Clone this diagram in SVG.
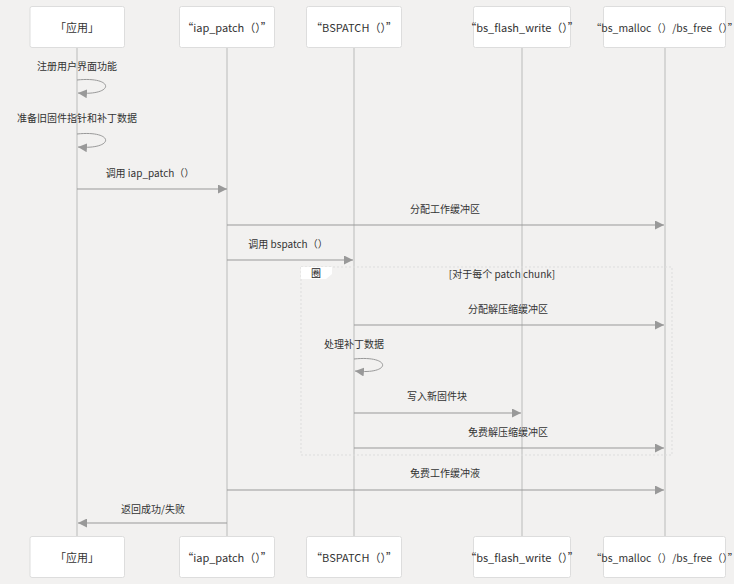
<svg xmlns="http://www.w3.org/2000/svg" width="734" height="584" viewBox="0 0 734 584">
<defs>
<style>
.actor rect{fill:#ffffff;stroke:#dddddd;stroke-width:1}
.actor text{font-family:"Noto Sans CJK SC","Liberation Sans",sans-serif;font-size:11px;fill:#333333;text-anchor:middle;dominant-baseline:central}
.actor text.wide{font-size:10.4px}
.life{stroke:#cccccc;stroke-width:1.5}
.msg{stroke:#999999;stroke-width:1;fill:none}
.lbl{font-family:"Noto Sans CJK SC","Liberation Sans",sans-serif;font-size:10px;fill:#333333;text-anchor:middle}
</style>
<marker id="ah" viewBox="0 0 10 10" refX="10" refY="5" markerWidth="9" markerHeight="9" markerUnits="userSpaceOnUse" orient="auto">
<path d="M0,0 L10,5 L0,10 z" fill="#999999"/>
</marker>
</defs>
<rect x="0" y="0" width="734" height="584" fill="#f2f1f0"/>
<g id="lifelines">
<line class="life" x1="77" y1="47" x2="77" y2="536"/>
<line class="life" x1="227" y1="47" x2="227" y2="536"/>
<line class="life" x1="354" y1="47" x2="354" y2="536"/>
<line class="life" x1="522" y1="47" x2="522" y2="536"/>
<line class="life" x1="665" y1="47" x2="665" y2="536"/>
</g>
<g id="loop">
<rect x="301" y="267" width="371" height="188" fill="none" stroke="#dddddd" stroke-width="1" stroke-dasharray="2,2"/>
<path d="M301,267 H332 V274 L326,279 H301 z" fill="#ffffff"/>
<text x="316" y="277" font-family="Noto Sans CJK SC, Liberation Sans, sans-serif" font-size="10" fill="#222222" text-anchor="middle">圈</text>
<text class="lbl" x="502" y="278">[对于每个 patch chunk]</text>
</g>
<g id="connectors">
<text class="lbl" x="77" y="70">注册用户界面功能</text>
<path class="msg" d="M77,80 C115,76 115,96 78,93" marker-end="url(#ah)"/>
<text class="lbl" x="77" y="122">准备旧固件指针和补丁数据</text>
<path class="msg" d="M77,134 C115,130 115,150 78,147" marker-end="url(#ah)"/>
<text class="lbl" x="150" y="177">调用 iap_patch（）</text>
<line class="msg" x1="77" y1="189" x2="227" y2="189" marker-end="url(#ah)"/>
<text class="lbl" x="445" y="213">分配工作缓冲区</text>
<line class="msg" x1="227" y1="225" x2="664" y2="225" marker-end="url(#ah)"/>
<text class="lbl" x="288" y="248">调用 bspatch（）</text>
<line class="msg" x1="227" y1="260" x2="353" y2="260" marker-end="url(#ah)"/>
<text class="lbl" x="508" y="313">分配解压缩缓冲区</text>
<line class="msg" x1="354" y1="325" x2="664" y2="325" marker-end="url(#ah)"/>
<text class="lbl" x="354" y="348">处理补丁数据</text>
<path class="msg" d="M354,359 C392,355 392,375 355,371" marker-end="url(#ah)"/>
<text class="lbl" x="437" y="400">写入新固件块</text>
<line class="msg" x1="354" y1="413" x2="521" y2="413" marker-end="url(#ah)"/>
<text class="lbl" x="508" y="436">免费解压缩缓冲区</text>
<line class="msg" x1="354" y1="448" x2="664" y2="448" marker-end="url(#ah)"/>
<text class="lbl" x="445" y="477">免费工作缓冲液</text>
<line class="msg" x1="227" y1="490" x2="664" y2="490" marker-end="url(#ah)"/>
<text class="lbl" x="153" y="513">返回成功/失败</text>
<line class="msg" x1="227" y1="523" x2="78" y2="523" marker-end="url(#ah)"/>
</g>
<g id="actor-app-top" class="actor"><rect x="30" y="6.5" width="94.5" height="41" rx="2"/><text x="77" y="27">「应用」</text></g>
<g id="actor-iap-top" class="actor"><rect x="179.5" y="6.5" width="95" height="41" rx="2"/><text x="227" y="27">“iap_patch（）”</text></g>
<g id="actor-bspatch-top" class="actor"><rect x="306.5" y="6.5" width="95" height="41" rx="2"/><text x="354" y="27">“BSPATCH（）”</text></g>
<g id="actor-flash-top" class="actor"><rect x="473.5" y="6.5" width="97" height="41" rx="2"/><text x="522" y="27">“bs_flash_write（）”</text></g>
<g id="actor-malloc-top" class="actor"><rect x="603.5" y="6.5" width="122" height="41" rx="2"/><text class="wide" x="664.5" y="27">“bs_malloc（）/bs_free（）”</text></g>
<g id="actor-app-bottom" class="actor"><rect x="30" y="536.5" width="94.5" height="41" rx="2"/><text x="77" y="557">「应用」</text></g>
<g id="actor-iap-bottom" class="actor"><rect x="179.5" y="536.5" width="95" height="41" rx="2"/><text x="227" y="557">“iap_patch（）”</text></g>
<g id="actor-bspatch-bottom" class="actor"><rect x="306.5" y="536.5" width="95" height="41" rx="2"/><text x="354" y="557">“BSPATCH（）”</text></g>
<g id="actor-flash-bottom" class="actor"><rect x="473.5" y="536.5" width="97" height="41" rx="2"/><text x="522" y="557">“bs_flash_write（）”</text></g>
<g id="actor-malloc-bottom" class="actor"><rect x="603.5" y="536.5" width="122" height="41" rx="2"/><text class="wide" x="664.5" y="557">“bs_malloc（）/bs_free（）”</text></g>
</svg>
